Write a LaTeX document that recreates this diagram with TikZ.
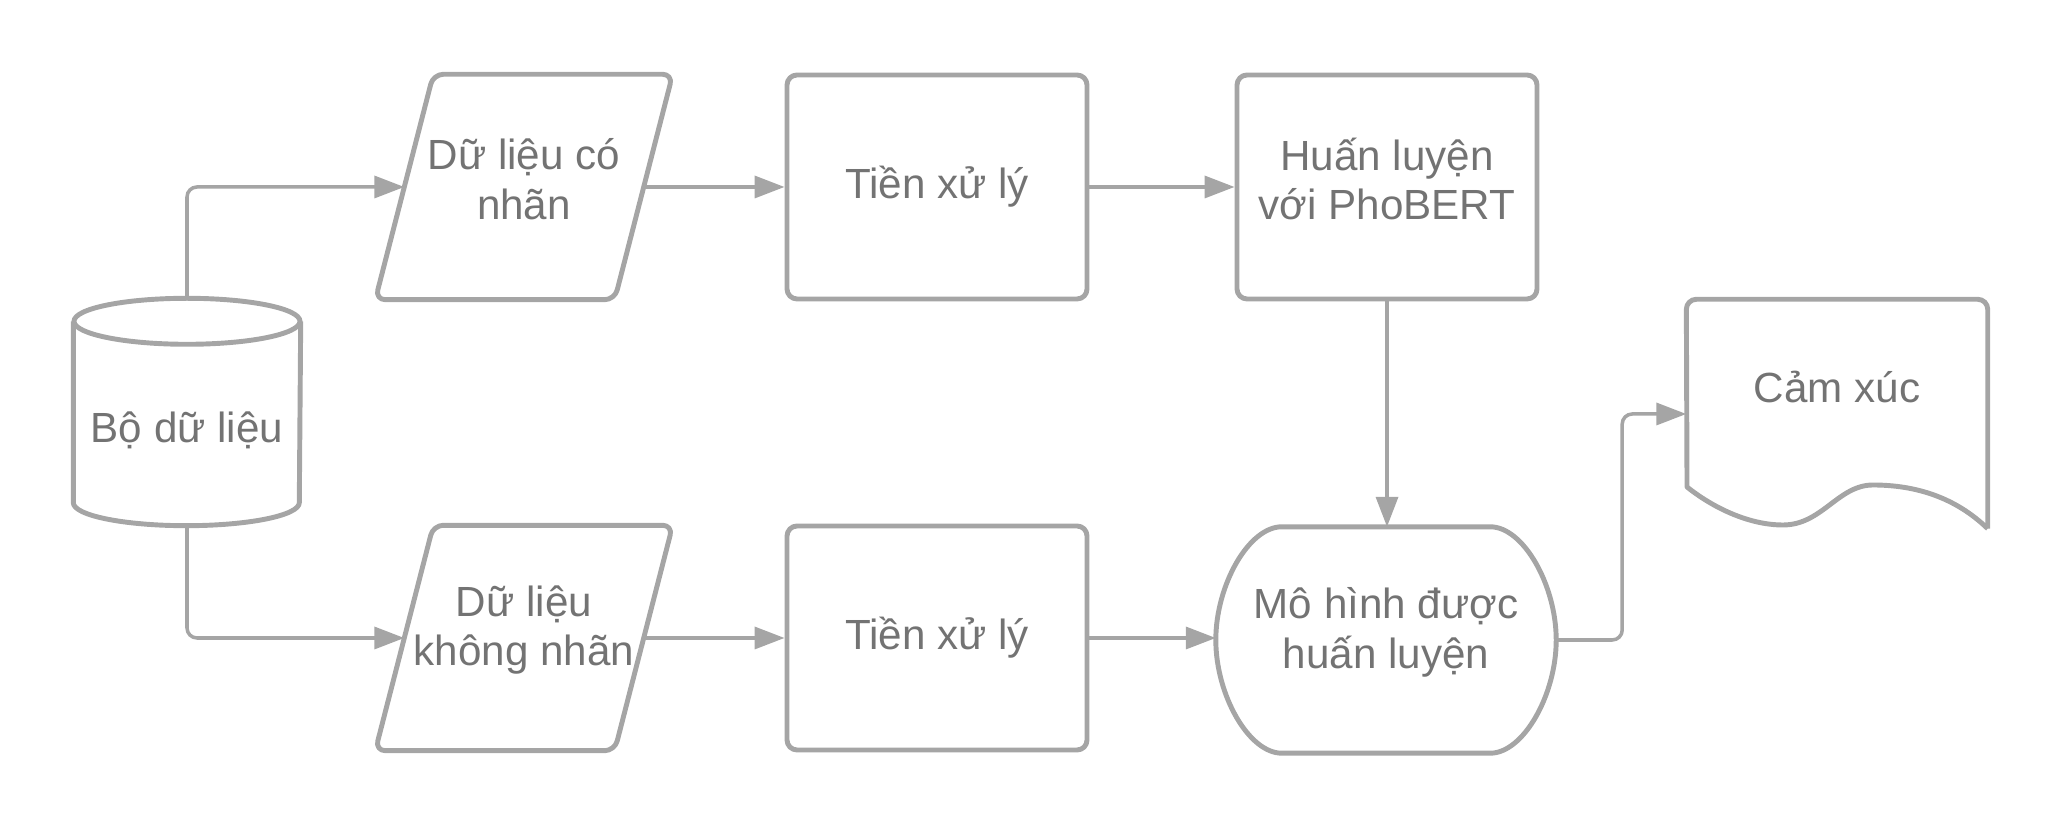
\documentclass[tikz,border=0pt]{standalone}
\usepackage{fontspec}
\setmainfont{Liberation Sans}
\usetikzlibrary{arrows.meta}
\definecolor{linegray}{HTML}{A5A5A5}
\definecolor{textgray}{HTML}{737373}
\tikzset{
  outline/.style={draw=linegray, line width=1.4pt, line join=round},
  txt/.style={text=textgray, font=\fontsize{12}{14.2}\selectfont, align=center},
  procbox/.style={outline, txt, rounded corners=1mm, minimum width=30mm, minimum height=22.4mm},
  hull/.style 2 args={inner sep=0pt, minimum width=#1, minimum height=#2},
  conn/.style={draw=linegray, line width=1pt, rounded corners=1mm, -{Triangle[length=3mm,width=2.2mm]}},
}
\begin{document}
\begin{tikzpicture}[x=0.1mm, y=-0.1mm]
  \useasboundingbox (0,0) rectangle (2063,829);

  % data store
  \node[hull={22.6mm}{22.6mm}] (data) at (187,412) {};
  \draw[outline] ([yshift=-2.3mm]data.north) ellipse [x radius=11.3mm, y radius=2.3mm];
  \draw[outline] ([yshift=-2.3mm]data.north west) -- ([yshift=2.3mm]data.south west)
    arc[start angle=180, end angle=360, x radius=11.3mm, y radius=2.3mm]
    -- ([yshift=-2.3mm]data.north east);
  \node[txt] (datatext) at (187,430) {Bộ dữ liệu};

  % input data
  \node[hull={23.8mm}{22.4mm}] (labeled) at (524,187) {};
  \node[txt] (labeledtext) at (524,179) {Dữ liệu có\\nhãn};
  \node[hull={23.8mm}{22.4mm}] (unlabeled) at (524,638) {};
  \node[txt] (unlabeledtext) at (524,630) {Dữ liệu\\không nhãn};
  \foreach \n in {labeled, unlabeled}
    \draw[outline, rounded corners=1mm] ([xshift=2.9mm]\n.north west) -- ([xshift=2.9mm]\n.north east)
      -- ([xshift=-2.9mm]\n.south east) -- ([xshift=-2.9mm]\n.south west) -- cycle;

  % processing
  \node[procbox] (prep1) at (937,187) {Tiền xử lý};
  \node[procbox] (train) at (1387,187) {};
  \node[txt] (traintext) at (1387,179) {Huấn luyện\\với PhoBERT};
  \node[procbox] (prep2) at (937,638) {Tiền xử lý};

  % trained model
  \node[hull={33.9mm}{22.5mm}] (model) at (1386,640) {};
  \node[txt] (modeltext) at (1386,632) {Mô hình được\\huấn luyện};
  \draw[outline] ([xshift=6.6mm]model.north west) -- ([xshift=-6.6mm]model.north east)
    .. controls ([xshift=-3.3mm]model.north east) and ([yshift=5.5mm]model.east) .. (model.east)
    .. controls ([yshift=-5.5mm]model.east) and ([xshift=-3.3mm]model.south east) .. ([xshift=-6.6mm]model.south east)
    -- ([xshift=6.6mm]model.south west)
    .. controls ([xshift=3.3mm]model.south west) and ([yshift=-5.5mm]model.west) .. (model.west)
    .. controls ([yshift=5.5mm]model.west) and ([xshift=3.3mm]model.north west) .. ([xshift=6.6mm]model.north west)
    -- cycle;

  % output document
  \node[hull={30mm}{22.8mm}] (emotion) at (1837,414) {};
  \draw[outline] (emotion.south east) [rounded corners=1mm] -- (emotion.north east) -- (emotion.north west)
    [sharp corners] -- (1687,487)
    .. controls (1712,507) and (1748,525) .. (1783,525)
    .. controls (1822,525) and (1838,485) .. (1873,485)
    .. controls (1915,485) and (1955,497) .. (emotion.south east);
  \node[txt] (emotiontext) at (1837,387) {Cảm xúc};

  \draw[conn] (data.north) |- (labeled.west);
  \draw[conn] (data.south) |- (unlabeled.west);
  \draw[conn] (labeled.east) -- (prep1.west);
  \draw[conn] (unlabeled.east) -- (prep2.west);
  \draw[conn] (prep1.east) -- (train.west);
  \draw[conn] (prep2.east) -- (prep2.east -| model.west);
  \draw[conn] (train.south) -- (train.south |- model.north);
  \draw[conn] (model.east) -- ++(6.6mm,0) |- (emotion.west);
\end{tikzpicture}
\end{document}
